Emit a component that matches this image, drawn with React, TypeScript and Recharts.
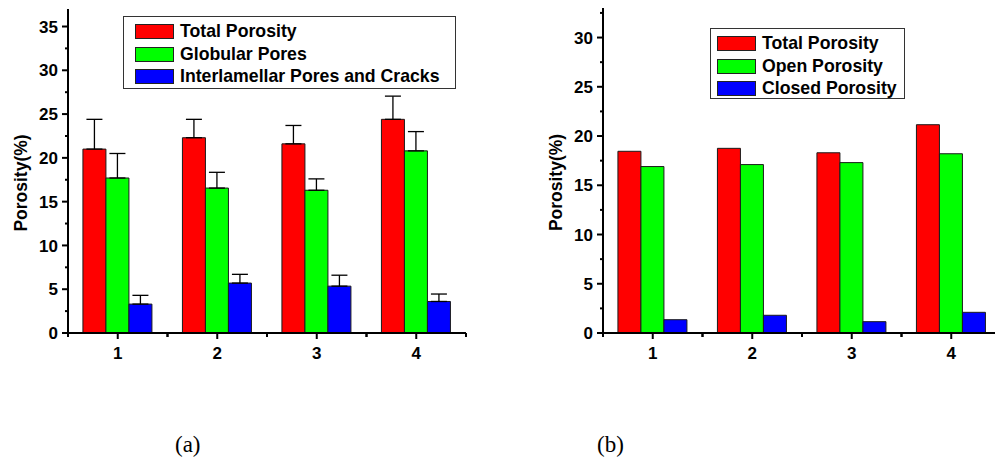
import React from 'react';
import { BarChart, Bar, XAxis, YAxis, ErrorBar, Legend } from 'recharts';

// ---------- data ----------
const categories = ['1', '2', '3', '4'];

// (a)
const seriesNamesA = ['Total Porosity', 'Globular Pores', 'Interlamellar Pores and Cracks'];
const totalPorosityA = [21.0, 22.3, 21.6, 24.4];
const totalPorosityErrA = [3.4, 2.1, 2.1, 2.65];
const globularPores = [17.7, 16.55, 16.3, 20.8];
const globularPoresErr = [2.8, 1.8, 1.3, 2.2];
const interlamellarPores = [3.3, 5.7, 5.35, 3.6];
const interlamellarPoresErr = [1.0, 1.0, 1.25, 0.85];

// (b)
const seriesNamesB = ['Total Porosity', 'Open Porosity', 'Closed Porosity'];
const totalPorosityB = [18.45, 18.75, 18.3, 21.15];
const openPorosity = [16.9, 17.1, 17.3, 18.2];
const closedPorosity = [1.35, 1.8, 1.15, 2.1];

const yTicksA = [0, 2.5, 5, 7.5, 10, 12.5, 15, 17.5, 20, 22.5, 25, 27.5, 30, 32.5, 35];
const yTicksB = [0, 2.5, 5, 7.5, 10, 12.5, 15, 17.5, 20, 22.5, 25, 27.5, 30, 32.5];

const dataA = categories.map((c, i) => ({
  cat: c,
  total: totalPorosityA[i],
  totalErr: [0, totalPorosityErrA[i]],
  globular: globularPores[i],
  globularErr: [0, globularPoresErr[i]],
  inter: interlamellarPores[i],
  interErr: [0, interlamellarPoresErr[i]],
}));

const dataB = categories.map((c, i) => ({
  cat: c,
  total: totalPorosityB[i],
  open: openPorosity[i],
  closed: closedPorosity[i],
}));

// ---------- styles ----------
const FONT = '"Liberation Sans", Arial, sans-serif';
const RED = '#ff0000';
const GREEN = '#00ff00';
const BLUE = '#0000ff';
const SERIES_COLORS = [RED, GREEN, BLUE];
const BAR_STROKE = '#1a1a1a';
const PLOT_W = 398;

const YTick = (props: any) => {
  const { x, y, payload } = props;
  const v = payload.value;
  const major = v % 5 === 0;
  return (
    <g>
      <line x1={x - (major ? 6 : 3)} x2={x} y1={y} y2={y} stroke="#000" strokeWidth={2} />
      {major && (
        <text x={x - 10} y={y} dy="0.36em" textAnchor="end" fontFamily={FONT} fontWeight="bold" fontSize={17} fill="#000">
          {v}
        </text>
      )}
    </g>
  );
};

const XTick = (props: any) => {
  const { x, y, payload } = props;
  const half = PLOT_W / categories.length / 2;
  return (
    <g>
      <line x1={x} x2={x} y1={y} y2={y + 6} stroke="#000" strokeWidth={2} />
      <line x1={x - half} x2={x - half} y1={y} y2={y + 4} stroke="#000" strokeWidth={2} />
      <line x1={x + half} x2={x + half} y1={y} y2={y + 4} stroke="#000" strokeWidth={2} />
      <text x={x} y={y + 26} textAnchor="middle" fontFamily={FONT} fontWeight="bold" fontSize={17} fill="#000">
        {payload.value}
      </text>
    </g>
  );
};

const YLabel = (props: any) => {
  const { viewBox } = props;
  const cx = viewBox.x + 11;
  const cy = viewBox.y + viewBox.height / 2 + 12;
  return (
    <text
      x={cx}
      y={cy}
      transform={`rotate(-90 ${cx} ${cy})`}
      textAnchor="middle"
      dominantBaseline="central"
      fontFamily={FONT}
      fontWeight="bold"
      fontSize={17.5}
      fill="#000"
    >
      Porosity(%)
    </text>
  );
};

const makeLegend = (names: string[], padLeft: number, rowTop: number) => () => (
  <div
    style={{
      boxSizing: 'border-box',
      border: '1px solid #333',
      width: '100%',
      height: '100%',
      position: 'relative',
      background: '#fff',
    }}
  >
    {names.map((name, i) => (
      <div
        key={name}
        style={{
          position: 'absolute',
          left: padLeft,
          top: rowTop + i * 22.5,
          display: 'flex',
          alignItems: 'center',
          whiteSpace: 'nowrap',
        }}
      >
        <div
          style={{
            width: 39,
            height: 15,
            background: SERIES_COLORS[i],
            border: '1px solid #222',
            boxSizing: 'border-box',
          }}
        />
        <span
          style={{
            marginLeft: 6,
            fontFamily: FONT,
            fontWeight: 'bold',
            fontSize: 17.7,
            lineHeight: '17px',
            color: '#000',
          }}
        >
          {name}
        </span>
      </div>
    ))}
  </div>
);

const axisLine = { stroke: '#000', strokeWidth: 2 };

const ChartA = () => (
  <BarChart
    width={500}
    height={459}
    data={dataA}
    margin={{ top: 9, right: 34, bottom: 96, left: 10 }}
    barCategoryGap="15%"
    barGap={0}
  >
    <XAxis dataKey="cat" height={30} tickSize={0} tickMargin={0} tickLine={false} axisLine={axisLine} tick={<XTick />} interval={0} />
    <XAxis xAxisId="top" dataKey="cat" orientation="top" height={0} tick={false} tickLine={false} axisLine={axisLine} />
    <YAxis
      width={58}
      domain={[0, 37]}
      ticks={yTicksA}
      interval={0}
      tickSize={0}
      tickMargin={0}
      tickLine={false}
      axisLine={axisLine}
      tick={<YTick />}
      label={<YLabel />}
      allowDataOverflow
    />
    <YAxis yAxisId="right" orientation="right" width={0} domain={[0, 37]} tick={false} tickLine={false} axisLine={axisLine} />
    <Legend
      layout="vertical"
      align="center"
      verticalAlign="middle"
      content={makeLegend(seriesNamesA, 11, 6)}
      wrapperStyle={{ position: 'absolute', left: 123, top: 16, width: 333, height: 73 }}
    />
    <Bar dataKey="total" name={seriesNamesA[0]} fill={RED} stroke={BAR_STROKE} strokeWidth={1} isAnimationActive={false}>
      <ErrorBar dataKey="totalErr" width={8} stroke="#000" strokeWidth={1.3} direction="y" />
    </Bar>
    <Bar dataKey="globular" name={seriesNamesA[1]} fill={GREEN} stroke={BAR_STROKE} strokeWidth={1} isAnimationActive={false}>
      <ErrorBar dataKey="globularErr" width={8} stroke="#000" strokeWidth={1.3} direction="y" />
    </Bar>
    <Bar dataKey="inter" name={seriesNamesA[2]} fill={BLUE} stroke={BAR_STROKE} strokeWidth={1} isAnimationActive={false}>
      <ErrorBar dataKey="interErr" width={8} stroke="#000" strokeWidth={1.3} direction="y" />
    </Bar>
  </BarChart>
);

const ChartB = () => (
  <BarChart
    width={500}
    height={459}
    data={dataB}
    margin={{ top: 8, right: 34, bottom: 96, left: 10 }}
    barCategoryGap="15%"
    barGap={0}
  >
    <XAxis dataKey="cat" height={30} tickSize={0} tickMargin={0} tickLine={false} axisLine={axisLine} tick={<XTick />} interval={0} />
    <XAxis xAxisId="top" dataKey="cat" orientation="top" height={0} tick={false} tickLine={false} axisLine={axisLine} />
    <YAxis
      width={58}
      domain={[0, 33]}
      ticks={yTicksB}
      interval={0}
      tickSize={0}
      tickMargin={0}
      tickLine={false}
      axisLine={axisLine}
      tick={<YTick />}
      label={<YLabel />}
      allowDataOverflow
    />
    <YAxis yAxisId="right" orientation="right" width={0} domain={[0, 33]} tick={false} tickLine={false} axisLine={axisLine} />
    <Legend
      layout="vertical"
      align="center"
      verticalAlign="middle"
      content={makeLegend(seriesNamesB, 6, 6)}
      wrapperStyle={{ position: 'absolute', left: 175, top: 28, width: 195, height: 71 }}
    />
    <Bar dataKey="total" name={seriesNamesB[0]} fill={RED} stroke={BAR_STROKE} strokeWidth={1} isAnimationActive={false} />
    <Bar dataKey="open" name={seriesNamesB[1]} fill={GREEN} stroke={BAR_STROKE} strokeWidth={1} isAnimationActive={false} />
    <Bar dataKey="closed" name={seriesNamesB[2]} fill={BLUE} stroke={BAR_STROKE} strokeWidth={1} isAnimationActive={false} />
  </BarChart>
);

export default function App() {
  return (
    <div
      style={{
        position: 'absolute',
        left: 0,
        top: 0,
        width: 995,
        height: 459,
        overflow: 'hidden',
        background: '#fff',
      }}
    >
      <div style={{ position: 'absolute', left: 0, top: 0 }}>
        <ChartA />
      </div>
      <div style={{ position: 'absolute', left: 535, top: 0 }}>
        <ChartB />
      </div>
      <div
        style={{
          position: 'absolute',
          left: 175,
          top: 433,
          fontFamily: '"Liberation Serif", "Times New Roman", serif',
          fontSize: 23,
          lineHeight: '23px',
          color: '#000',
        }}
      >
        (a)
      </div>
      <div
        style={{
          position: 'absolute',
          left: 597,
          top: 433,
          fontFamily: '"Liberation Serif", "Times New Roman", serif',
          fontSize: 23,
          lineHeight: '23px',
          color: '#000',
        }}
      >
        (b)
      </div>
    </div>
  );
}
